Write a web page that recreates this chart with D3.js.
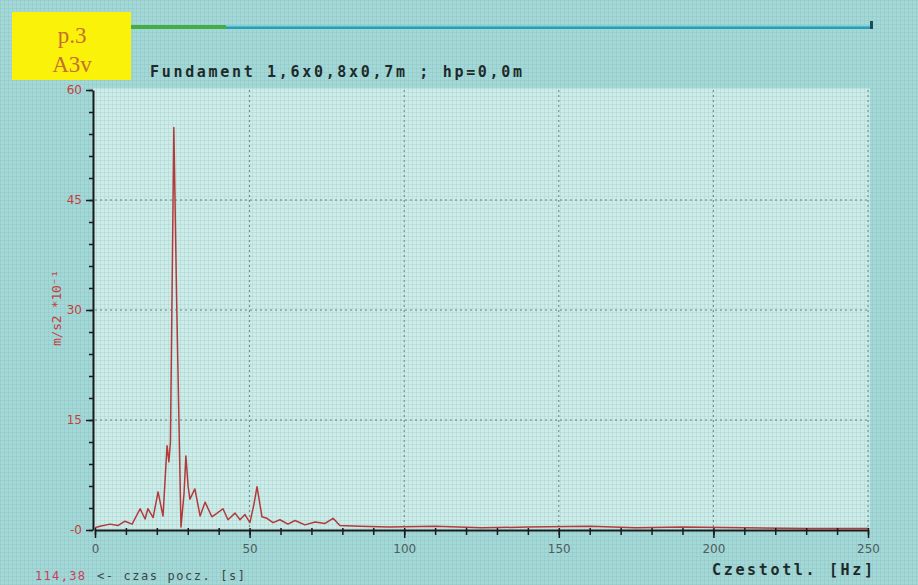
<!DOCTYPE html>
<head>
  <meta charset="utf-8">
  <script src="https://d3js.org/d3.v7.min.js"></script>
  <style>
    body { margin:0; background:#a2d8d7; }
    svg { display:block; }
    .mono { font-family: "DejaVu Sans Mono", monospace; }
  </style>
</head>
<body>
<script>
  var W = 918, H = 585;

  // spectrum: frequency [Hz] and amplitude [m/s2 *10^-1]
  var freq = [0, 1.6, 4.9, 7.4, 9.7, 12, 14.6, 16.2, 17.1, 18.8, 20.4, 22, 23.3, 23.9, 24.4,
              25.5, 26.4, 27.8, 28.8, 29.4, 30.1, 30.7, 32.3, 34, 35.6, 37.8, 39.5, 41.4, 43,
              45.3, 46.9, 48.5, 50.1, 51.4, 52.4, 54, 55.6, 57.6, 59.8, 62.4, 64.7, 67.9, 71.2,
              74.4, 77, 79.2, 85.7, 95, 110, 125, 140, 160, 175, 190, 210, 230, 250];
  var amp  = [0.3, 0.5, 0.8, 0.6, 1.2, 0.8, 2.9, 1.5, 2.9, 1.7, 5.2, 1.9, 11.5, 9.3, 12,
              54.9, 31.4, 0.4, 5, 10.1, 6, 4.2, 5.6, 1.9, 3.8, 1.8, 2.3, 2.9, 1.4,
              2.3, 1.4, 2.1, 1, 3.5, 5.9, 1.8, 1.6, 1, 1.4, 0.8, 1.3, 0.7, 1.1,
              0.9, 1.6, 0.6, 0.5, 0.4, 0.5, 0.3, 0.4, 0.5, 0.3, 0.4, 0.3, 0.2, 0.2];

  var xMajor = [0, 50, 100, 150, 200, 250];
  var yMajor = [0, 15, 30, 45, 60];
  var yLabels = ["-0", "15", "30", "45", "60"];

  var svg = d3.select("body").append("svg")
    .attr("width", W)
    .attr("height", H);

  // fine grid texture of the scanned paper
  var defs = svg.append("defs");
  var pat = defs.append("pattern")
    .attr("id", "tex")
    .attr("width", 4).attr("height", 4)
    .attr("patternUnits", "userSpaceOnUse");
  pat.append("path")
    .attr("d", "M0,0.5H4M0.5,0V4")
    .attr("stroke", "#6f9c9c")
    .attr("stroke-opacity", 0.14)
    .attr("stroke-width", 1);

  var x = d3.scaleLinear().domain([0, 250]).range([95, 868]);
  var y = d3.scaleLinear().domain([0, 60]).range([530, 90]);

  // plot area
  svg.append("rect")
    .attr("x", 93).attr("y", 88)
    .attr("width", 777).attr("height", 442)
    .attr("fill", "#cbece9");

  svg.append("rect")
    .attr("width", W).attr("height", H)
    .attr("fill", "url(#tex)");

  // dotted major grid
  svg.append("g").selectAll("line")
    .data(xMajor.slice(1))
    .enter().append("line")
    .attr("x1", function(d) { return x(d); })
    .attr("x2", function(d) { return x(d); })
    .attr("y1", y(60)).attr("y2", y(0))
    .attr("stroke", "#6a7f80")
    .attr("stroke-dasharray", "2,3");
  svg.append("g").selectAll("line")
    .data(yMajor.slice(1, 4))
    .enter().append("line")
    .attr("x1", x(0)).attr("x2", x(250))
    .attr("y1", function(d) { return y(d); })
    .attr("y2", function(d) { return y(d); })
    .attr("stroke", "#6a7f80")
    .attr("stroke-dasharray", "2,3");

  // top progress bar
  svg.append("rect").attr("x", 130).attr("y", 25).attr("width", 743).attr("height", 4).attr("fill", "#2b9eb2");
  svg.append("rect").attr("x", 130).attr("y", 25).attr("width", 743).attr("height", 1.5).attr("fill", "#7fd3e0");
  svg.append("rect").attr("x", 130).attr("y", 25).attr("width", 96).attr("height", 4).attr("fill", "#46ad44");
  svg.append("rect").attr("x", 870).attr("y", 21).attr("width", 3).attr("height", 8).attr("fill", "#1c4d55");

  // yellow tag
  svg.append("rect")
    .attr("x", 12).attr("y", 12)
    .attr("width", 119).attr("height", 68)
    .attr("fill", "#fbf20a");
  svg.append("text").attr("x", 72).attr("y", 43)
    .attr("text-anchor", "middle")
    .attr("font-family", "Liberation Serif").attr("font-size", 23)
    .attr("fill", "#c4702e").text("p.3");
  svg.append("text").attr("x", 72).attr("y", 72)
    .attr("text-anchor", "middle")
    .attr("font-family", "Liberation Serif").attr("font-size", 23)
    .attr("fill", "#c4702e").text("A3v");

  // title
  svg.append("text").attr("class", "mono")
    .attr("x", 150).attr("y", 77)
    .attr("font-size", 15).attr("font-weight", "bold")
    .attr("textLength", 372).attr("lengthAdjust", "spacing")
    .attr("fill", "#1e2a2a")
    .text("Fundament 1,6x0,8x0,7m ; hp=0,0m");

  // spectrum
  var line = d3.line()
    .x(function(d, i) { return x(freq[i]); })
    .y(function(d) { return y(d); });
  svg.append("path")
    .datum(amp)
    .attr("d", line)
    .attr("fill", "none")
    .attr("stroke", "#b23a3a")
    .attr("stroke-width", 1.5)
    .attr("stroke-linejoin", "round");

  // x axis
  var gx = svg.append("g").attr("transform", "translate(0,530)");
  gx.call(d3.axisBottom(x).tickValues(d3.range(0, 251, 10)).tickSize(5).tickSizeOuter(0).tickFormat(""));
  gx.select(".domain").attr("stroke", "#1a1a1a").attr("stroke-width", 2);
  gx.selectAll(".tick line").attr("stroke", "#1a1a1a").attr("y1", -2).attr("stroke-width", 1.5);
  var gx2 = svg.append("g").attr("transform", "translate(0,530)");
  gx2.call(d3.axisBottom(x).tickValues(xMajor).tickSize(8).tickPadding(6).tickFormat(d3.format("d")));
  gx2.select(".domain").remove();
  gx2.selectAll(".tick line").attr("stroke", "#1a1a1a").attr("stroke-width", 1.5);
  gx2.selectAll(".tick text")
    .attr("font-family", "DejaVu Sans").attr("font-size", 12)
    .attr("fill", "#4f5c5c");

  // y axis
  var gy = svg.append("g").attr("transform", "translate(93,0)");
  gy.call(d3.axisLeft(y).tickValues(d3.range(0, 61, 3)).tickSize(4).tickSizeOuter(0).tickFormat(""));
  gy.select(".domain").attr("stroke", "#1a1a1a").attr("stroke-width", 2);
  gy.selectAll(".tick line").attr("stroke", "#1a1a1a").attr("stroke-width", 1.5);
  var gy2 = svg.append("g").attr("transform", "translate(93,0)");
  gy2.call(d3.axisLeft(y).tickValues(yMajor).tickSize(7).tickPadding(4)
    .tickFormat(function(d, i) { return yLabels[i]; }));
  gy2.select(".domain").remove();
  gy2.selectAll(".tick line").attr("stroke", "#1a1a1a").attr("stroke-width", 1.5);
  gy2.selectAll(".tick text")
    .attr("font-family", "DejaVu Sans").attr("font-size", 12)
    .attr("fill", "#c2403c");

  // y axis title
  svg.append("text")
    .attr("transform", "translate(61,308) rotate(-90)")
    .attr("text-anchor", "middle")
    .attr("font-family", "DejaVu Sans Mono").attr("font-size", 13)
    .attr("textLength", 76).attr("lengthAdjust", "spacing")
    .attr("fill", "#c2403c")
    .text("m/s2 *10\u207B\u00B9");

  // x axis title
  svg.append("text").attr("class", "mono")
    .attr("x", 712).attr("y", 575)
    .attr("font-size", 15).attr("font-weight", "bold")
    .attr("textLength", 161).attr("lengthAdjust", "spacing")
    .attr("fill", "#1e2a2a")
    .text("Czestotl. [Hz]");

  // start time note
  svg.append("text").attr("class", "mono")
    .attr("x", 35).attr("y", 580)
    .attr("font-size", 12)
    .attr("textLength", 50).attr("lengthAdjust", "spacing")
    .attr("fill", "#c8405e")
    .text("114,38");
  svg.append("text").attr("class", "mono")
    .attr("x", 97).attr("y", 580)
    .attr("font-size", 12)
    .attr("textLength", 148).attr("lengthAdjust", "spacing")
    .attr("fill", "#3a4747")
    .text("<- czas pocz. [s]");
</script>
</body>
